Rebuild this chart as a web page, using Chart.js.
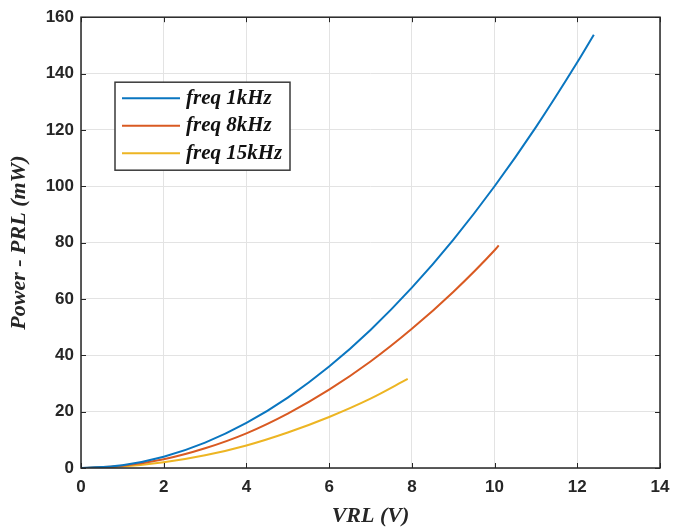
<!DOCTYPE html>
<html lang="en">
<head>
    <meta charset="UTF-8">
    <title>Power vs VRL</title>
    <script src="https://cdn.jsdelivr.net/npm/chart.js"></script>
    <style>
        html, body { margin: 0; padding: 0; background: #fff; }
        #wrap { width: 691px; height: 530px; }
    </style>
</head>
<body>
<div id="wrap"><canvas id="powerChart" width="691" height="530"></canvas></div>

<script>
    // Load voltage (V) and measured power (mW) for each frequency
    const vrl1k = [0, 1, 2, 3, 4, 5, 6, 7, 8, 9, 10, 11, 12, 12.4];
    const prl1k = [0, 1, 4, 9, 16, 25, 36, 49, 64, 81, 100, 121, 144, 153.8];

    const vrl8k = [0, 1, 2, 3, 4, 5, 6, 7, 8, 9, 10, 10.1];
    const prl8k = [0, 0.8, 3.1, 7, 12.3, 19.3, 27.8, 37.8, 49.4, 62.5, 77.3, 79];

    const vrl15k = [0, 1, 2, 3, 4, 5, 6, 7, 7.9];
    const prl15k = [0, 0.5, 2, 4.5, 8, 12.6, 18.1, 24.6, 31.6];

    const seriesNames = ['freq 1kHz', 'freq 8kHz', 'freq 15kHz'];
    const seriesColors = ['#0a76c0', '#d95a22', '#edb523'];

    const xTicks = [0, 2, 4, 6, 8, 10, 12, 14];
    const yTicks = [0, 20, 40, 60, 80, 100, 120, 140, 160];

    const toPoints = (xs, ys) => xs.map((x, i) => ({ x: x, y: ys[i] }));

    const axisColor = '#262626';
    const gridColor = '#e3e3e3';
    const tickFont = { family: "'Liberation Sans', Arial, sans-serif", size: 17, weight: 'bold' };
    const titleFont = { family: "'Liberation Serif', 'Times New Roman', serif", size: 22, weight: 'bold', style: 'italic' };

    // box around the axes, inward ticks and the legend panel
    const matlabFrame = {
        id: 'matlabFrame',
        afterDatasetsDraw(chart) {
            const ctx = chart.ctx;
            const a = chart.chartArea;
            const xs = chart.scales.x, ys = chart.scales.y;
            ctx.save();
            ctx.strokeStyle = axisColor;
            ctx.lineWidth = 1.5;
            ctx.strokeRect(a.left, a.top, a.right - a.left, a.bottom - a.top);
            ctx.beginPath();
            xTicks.forEach(v => {
                const px = Math.round(xs.getPixelForValue(v)) + 0.5;
                ctx.moveTo(px, a.bottom); ctx.lineTo(px, a.bottom - 5);
                ctx.moveTo(px, a.top); ctx.lineTo(px, a.top + 5);
            });
            yTicks.forEach(v => {
                const py = Math.round(ys.getPixelForValue(v)) + 0.5;
                ctx.moveTo(a.left, py); ctx.lineTo(a.left + 5, py);
                ctx.moveTo(a.right, py); ctx.lineTo(a.right - 5, py);
            });
            ctx.lineWidth = 1;
            ctx.stroke();

            // legend
            const lx = a.left + 34, ly = a.top + 65, lw = 175, lh = 88;
            ctx.fillStyle = '#fff';
            ctx.fillRect(lx, ly, lw, lh);
            ctx.lineWidth = 1.5;
            ctx.strokeStyle = '#3a3a3a';
            ctx.strokeRect(lx, ly, lw, lh);
            ctx.font = "italic bold 21px 'Liberation Serif', serif";
            ctx.textBaseline = 'middle';
            seriesNames.forEach((name, i) => {
                const cy = ly + 16 + i * 27.5;
                ctx.strokeStyle = seriesColors[i];
                ctx.lineWidth = 2;
                ctx.beginPath();
                ctx.moveTo(lx + 7, cy);
                ctx.lineTo(lx + 65, cy);
                ctx.stroke();
                ctx.fillStyle = '#111';
                ctx.fillText(name, lx + 71, cy);
            });
            ctx.restore();
        }
    };

    new Chart(document.getElementById('powerChart'), {
        type: 'scatter',
        data: {
            datasets: [
                { label: seriesNames[0], data: toPoints(vrl1k, prl1k) },
                { label: seriesNames[1], data: toPoints(vrl8k, prl8k) },
                { label: seriesNames[2], data: toPoints(vrl15k, prl15k) }
            ].map((d, i) => Object.assign(d, {
                showLine: true,
                borderColor: seriesColors[i],
                borderWidth: 2,
                pointRadius: 0,
                cubicInterpolationMode: 'monotone',
                fill: false
            }))
        },
        options: {
            responsive: false,
            animation: false,
            layout: { padding: { top: 14, right: 31, left: 0, bottom: 0 } },
            plugins: {
                legend: { display: false },
                tooltip: { enabled: false }
            },
            scales: {
                x: {
                    type: 'linear',
                    min: 0, max: 14,
                    afterBuildTicks: s => { s.ticks = xTicks.map(v => ({ value: v })); },
                    afterFit: s => { s.height = 62; },
                    grid: { color: gridColor, drawTicks: false },
                    border: { display: false },
                    ticks: { color: '#262626', font: tickFont, padding: 9 },
                    title: {
                        display: true, text: 'VRL (V)', color: '#262626',
                        font: titleFont, padding: { top: 0, bottom: 0 }
                    }
                },
                y: {
                    type: 'linear',
                    min: 0, max: 160,
                    afterBuildTicks: s => { s.ticks = yTicks.map(v => ({ value: v })); },
                    afterFit: s => { s.width = 81; },
                    grid: { color: gridColor, drawTicks: false },
                    border: { display: false },
                    ticks: { color: '#262626', font: tickFont, padding: 7 },
                    title: {
                        display: true, text: 'Power - PRL (mW)', color: '#262626',
                        font: titleFont, padding: { top: 6, bottom: 0 }
                    }
                }
            }
        },
        plugins: [matlabFrame]
    });
</script>
</body>
</html>
